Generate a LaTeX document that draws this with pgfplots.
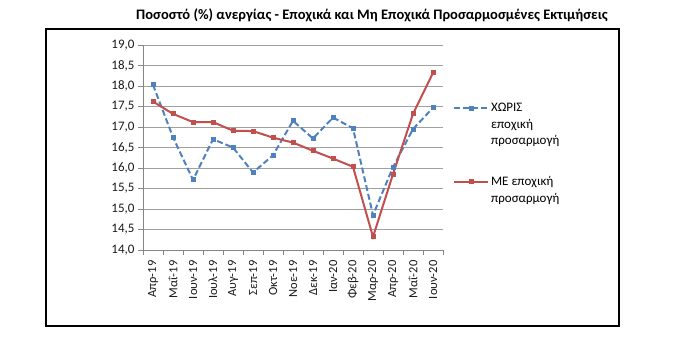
\documentclass[border=0pt]{standalone}
\usepackage{pgfplots}
\pgfplotsset{compat=1.18}
\usepackage{fontspec}
\setmainfont{Carlito}
\definecolor{cblue}{RGB}{79,129,189}
\definecolor{cred}{RGB}{192,80,77}
\definecolor{cgrid}{RGB}{160,160,160}
\definecolor{caxis}{RGB}{134,134,134}
\begin{document}
\begin{tikzpicture}[x=1pt,y=1pt]
\path (0,0) rectangle (688,352);
\draw[line width=1.2pt] (46,26) rectangle (619,323);
\node[font=\bfseries\fontsize{14.5}{17}\selectfont] at (372,337) {Ποσοστό (\%) ανεργίας - Εποχικά και Μη Εποχικά Προσαρμοσμένες Εκτιμήσεις};
\begin{axis}[
  at={(143pt,102pt)}, anchor=south west,
  scale only axis, width=300pt, height=205pt,
  xmin=-0.5, xmax=14.5, ymin=14, ymax=19,
  axis x line*=bottom, axis y line*=left,
  axis line style={caxis, line width=0.9pt},
  ytick={14,14.5,15,15.5,16,16.5,17,17.5,18,18.5,19},
  xtick={0,1,2,3,4,5,6,7,8,9,10,11,12,13,14},
  xticklabels={Απρ-19,Μαΐ-19,Ιουν-19,Ιουλ-19,Αυγ-19,Σεπ-19,Οκτ-19,Νοε-19,Δεκ-19,Ιαν-20,Φεβ-20,Μαρ-20,Απρ-20,Μαΐ-20,Ιουν-20},
  minor xtick={-0.5,0.5,1.5,2.5,3.5,4.5,5.5,6.5,7.5,8.5,9.5,10.5,11.5,12.5,13.5,14.5},
  major x tick style={draw=none},
  minor x tick style={caxis, line width=0.9pt},
  y tick style={caxis, line width=0.9pt},
  tick align=outside, major tick length=5pt, minor tick length=5pt,
  ymajorgrids, grid style={cgrid, line width=0.9pt},
  /pgf/number format/.cd, fixed, fixed zerofill, precision=1, use comma, assume math mode=true,
  /pgfplots/.cd,
  yticklabel style={font=\fontsize{13}{15}\selectfont, black!90},
  xticklabel style={rotate=90, anchor=east, font=\fontsize{12.5}{14}\selectfont, black!90},
  xticklabel shift=2pt,
  legend cell align=left,
  legend image code/.code={\draw[mark repeat=2,mark phase=2,#1] plot coordinates {(0pt,0pt) (17pt,0pt) (34pt,0pt)};},
  legend style={draw=none, fill=none, at={(1.023,0.735)}, anchor=north west,
    font=\fontsize{13}{16.5}\selectfont, cells={align=left}, row sep=26pt},
]
\addplot[cblue, line width=2pt, dash pattern=on 6pt off 3pt, mark=square*, mark size=1.5pt, mark options={solid},
  legend image post style={yshift=16.5pt}] coordinates {
(0,18.03) (1,16.75) (2,15.71) (3,16.70) (4,16.50) (5,15.89) (6,16.31) (7,17.15) (8,16.72) (9,17.23) (10,16.97) (11,14.85) (12,16.02) (13,16.95) (14,17.47)};
\addlegendentry{ΧΩΡΙΣ\\εποχική\\προσαρμογή}
\addplot[cred, line width=2pt, mark=square*, mark size=1.5pt,
  legend image post style={yshift=8.25pt}] coordinates {
(0,17.62) (1,17.32) (2,17.12) (3,17.12) (4,16.91) (5,16.90) (6,16.74) (7,16.62) (8,16.42) (9,16.23) (10,16.03) (11,14.32) (12,15.85) (13,17.32) (14,18.32)};
\addlegendentry{ΜΕ εποχική\\προσαρμογή}
\end{axis}
\end{tikzpicture}
\end{document}
